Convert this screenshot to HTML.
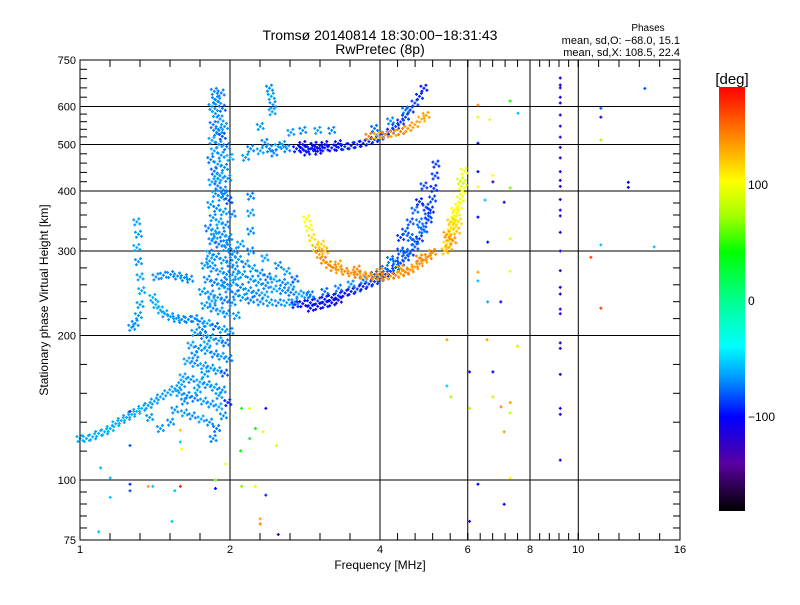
<!DOCTYPE html>
<html><head><meta charset="utf-8"><style>
html,body{margin:0;padding:0;background:#fff;}
svg text{font-family:"Liberation Sans",sans-serif;fill:#000;}
</style></head><body>
<svg id="chart" width="800" height="600" viewBox="0 0 800 600" xmlns="http://www.w3.org/2000/svg">
<defs>
<linearGradient id="cmap" x1="0" y1="1" x2="0" y2="0">
<stop offset="0" stop-color="#000000"/><stop offset="0.111" stop-color="#5a00a0"/><stop offset="0.222" stop-color="#0000ff"/><stop offset="0.306" stop-color="#008cff"/><stop offset="0.389" stop-color="#00ffff"/><stop offset="0.5" stop-color="#00ff8c"/><stop offset="0.611" stop-color="#00ff00"/><stop offset="0.694" stop-color="#a0ff00"/><stop offset="0.778" stop-color="#ffff00"/><stop offset="0.889" stop-color="#ff8000"/><stop offset="1" stop-color="#ff0000"/>
</linearGradient>
</defs>
<rect width="800" height="600" fill="#fff"/>
<text x="380" y="40" font-size="14" text-anchor="middle">Tromsø 20140814 18:30:00−18:31:43</text>
<text x="380" y="54" font-size="14" text-anchor="middle">RwPretec (8p)</text>
<text x="648" y="31" font-size="10" text-anchor="middle">Phases</text>
<text x="680" y="44" font-size="11" text-anchor="end">mean, sd,O: −68.0, 15.1</text>
<text x="680" y="56" font-size="11" text-anchor="end">mean, sd,X: 108.5, 22.4</text>
<g id="grid"></g>
<g id="marks"></g>
<rect x="80" y="60" width="600" height="480" fill="none" stroke="#000" stroke-width="1"/>
<g id="axes"></g>
<text x="380" y="569" font-size="12" text-anchor="middle">Frequency [MHz]</text>
<text transform="translate(48,300) rotate(-90)" font-size="12" text-anchor="middle">Stationary phase Virtual Height [km]</text>
<rect x="719" y="87" width="26" height="424" fill="url(#cmap)"/>
<text x="732" y="84" font-size="15" text-anchor="middle">[deg]</text>
<g id="cbticks"></g>
</svg>
<script>
const xTicks = [1, 2, 4, 6, 8, 10, 16];
const xGrid = [2, 4, 6, 8, 10];
const yTicks = [75, 100, 200, 300, 400, 500, 600, 750];
const yGrid = [100, 200, 300, 400, 500, 600];
const cbTicks = [100, 0, -100];

const spreadF = [[1.86,645,-65],[1.92,640,-70],[1.89,615,-60],[1.84,600,-65],[1.93,595,-75],[1.87,580,-60],[1.91,565,-65],[1.85,550,-70],[1.95,545,-60],[1.88,530,-65],[1.93,520,-80],[1.84,510,-60],[1.9,500,-65],[1.97,495,-70],[1.86,485,-60],[1.92,475,-65],[2.0,470,-55],[1.83,465,-70],[1.89,455,-60],[1.95,448,-65],[1.86,440,-75],[1.91,430,-60],[1.98,425,-65],[1.84,418,-60],[1.89,410,-70],[1.94,402,-65],[1.87,395,-60],[1.92,388,-65],[1.99,382,-80],[1.83,375,-60],[1.88,368,-65],[1.94,362,-60],[2.02,358,-70],[1.85,352,-65],[1.9,345,-60],[1.96,340,-65],[1.81,335,-70],[1.87,330,-60],[1.93,325,-65],[1.99,320,-60],[1.84,315,-65],[1.9,310,-75],[1.96,305,-60],[2.04,300,-65],[1.82,297,-60],[1.88,292,-65],[1.94,287,-60],[2.0,283,-70],[1.78,280,-60],[1.85,276,-65],[1.91,272,-60],[1.97,268,-65],[2.05,265,-60],[1.8,262,-65],[1.86,258,-70],[1.92,254,-60],[1.98,250,-65],[1.76,247,-60],[1.83,244,-65],[1.89,240,-60],[1.95,237,-70],[2.02,234,-65],[1.78,231,-60],[1.85,228,-65],[1.91,225,-60],[1.97,222,-65],[2.06,220,-60],[1.74,214,-65],[1.8,212,-60],[1.87,209,-75],[1.93,206,-60],[2.0,204,-65],[1.7,203,-60],[1.77,200,-65],[1.83,198,-60],[1.9,195,-65],[1.96,193,-70],[1.67,191,-60],[1.73,188,-65],[1.8,186,-60],[1.86,183,-70],[1.92,181,-60],[1.99,179,-65],[1.64,177,-60],[1.7,175,-65],[1.77,173,-60],[1.83,171,-65],[1.89,169,-60],[1.95,167,-80],[1.61,164,-60],[1.67,162,-65],[1.74,160,-60],[1.8,158,-65],[1.86,156,-60],[1.93,154,-65],[1.58,152,-60],[1.64,150,-65],[1.7,148,-70],[1.77,146,-60],[1.83,144,-65],[1.9,142,-60],[1.55,140,-65],[1.62,138,-60],[1.68,136,-65],[1.75,134,-60],[1.82,132,-65],[1.9,150,-60],[1.72,154,-60],[1.62,146,-65],[1.78,166,-60],[1.7,182,-65],[1.8,192,-60],[1.76,206,-65],[1.84,236,-60],[1.95,258,-65],[1.82,286,-60],[1.97,312,-65],[1.86,322,-60],[1.95,395,-65],[1.89,425,-60],[1.9,535,-65],[1.87,620,-65],[1.88,128,-70],[1.94,136,-65],[1.98,145,-90],[1.85,122,-65]];

const lowBand = [[2.02,295,-65],[2.08,288,-60],[2.15,282,-65],[2.22,276,-60],[2.3,270,-65],[2.38,265,-70],[2.45,262,-60],[2.55,258,-65],[2.65,255,-60],[2.05,275,-65],[2.12,268,-60],[2.2,262,-65],[2.28,258,-60],[2.36,254,-65],[2.45,250,-60],[2.55,248,-65],[2.65,246,-70],[2.75,244,-60],[2.85,243,-65],[2.03,258,-60],[2.1,252,-65],[2.18,248,-60],[2.26,245,-65],[2.35,243,-60],[2.05,244,-65],[2.12,240,-60],[2.2,237,-70],[2.3,235,-65],[2.4,234,-60],[2.5,234,-65],[2.6,234,-60],[2.7,235,-65],[2.1,310,-60],[2.2,300,-65],[2.35,290,-60],[2.5,280,-65],[2.6,272,-60],[2.7,262,-75],[2.2,330,-65],[2.2,360,-60],[2.2,390,-65]];

const oTrace = [[2.7,232,-90],[2.8,233,-100],[2.9,234,-95],[3.0,236,-90],[3.1,238,-100],[3.2,240,-95],[3.3,242,-90],[3.4,245,-100],[3.5,247,-95],[3.6,250,-90],[3.7,253,-95],[3.8,256,-90],[3.9,259,-85],[4.0,263,-85],[4.1,268,-80],[4.2,272,-85],[4.3,277,-80],[4.4,283,-85],[4.5,290,-80],[4.6,297,-85],[4.7,306,-80],[4.8,318,-85],[4.9,332,-80],[5.0,348,-85],[5.05,365,-90],[5.1,385,-85],[5.13,405,-90],[5.16,430,-85],[5.18,455,-90],[2.9,228,-100],[3.0,230,-105],[3.1,232,-95],[3.2,234,-100],[3.3,237,-105],[2.9,243,-70],[3.1,247,-75],[3.3,251,-70],[3.5,256,-65],[3.7,261,-70],[3.9,268,-75],[4.1,276,-70],[4.3,286,-75],[4.5,298,-70],[4.7,314,-75],[4.85,333,-70],[5.0,355,-80],[4.6,320,-75],[4.8,345,-70],[4.95,370,-85],[4.4,300,-80],[4.2,288,-70],[4.4,320,-85],[4.6,345,-80],[4.8,380,-90],[4.9,410,-85],[4.7,365,-75],[4.5,330,-80]];

const xTrace = [[2.85,350,100],[2.88,335,95],[2.92,320,110],[2.97,305,120],[3.02,295,130],[3.08,287,140],[3.15,281,135],[3.22,277,140],[3.3,274,130],[3.4,272,140],[3.5,270,135],[3.6,268,140],[3.7,267,130],[3.8,266,140],[3.9,265,135],[4.0,265,130],[4.1,265,140],[4.2,266,135],[4.3,267,140],[4.4,269,130],[4.5,271,140],[4.6,274,135],[4.7,278,130],[4.8,282,135],[4.9,287,130],[5.0,292,140],[5.1,298,135],[3.05,310,115],[3.1,300,125],[3.3,282,130],[3.6,275,140],[4.0,272,135],[4.4,276,130],[4.8,290,140],[5.4,300,120],[5.45,310,110],[5.5,320,130],[5.55,330,100],[5.6,340,110],[5.65,350,95],[5.7,360,105],[5.75,372,100],[5.8,385,95],[5.85,400,100],[5.88,415,90],[5.5,305,125],[5.6,315,135],[5.7,330,120],[5.75,345,110],[5.45,325,130],[5.55,345,115],[5.65,365,100],[5.8,420,85],[5.9,440,95]];

const oHop2 = [[2.72,490,-95],[2.8,489,-100],[2.9,490,-95],[3.0,491,-100],[3.1,492,-95],[3.2,492,-100],[3.3,493,-95],[3.4,495,-90],[3.5,497,-95],[3.6,500,-90],[3.7,503,-95],[3.8,507,-90],[3.9,512,-85],[4.0,518,-90],[4.1,525,-85],[4.2,533,-90],[4.3,545,-85],[4.4,557,-90],[4.5,570,-85],[4.6,590,-90],[4.7,610,-85],[4.8,630,-90],[4.9,655,-95],[2.8,500,-100],[2.95,498,-105],[3.1,500,-100],[3.3,502,-95],[2.85,482,-95],[3.0,484,-100],[2.2,490,-65],[2.3,485,-60],[2.4,490,-65],[2.5,495,-60],[2.6,490,-65],[2.15,470,-60],[2.35,505,-65],[2.55,500,-60],[2.45,480,-70],[2.65,530,-60],[2.8,535,-65],[3.0,535,-60],[3.2,535,-65],[2.3,545,-60],[2.4,655,-65],[2.42,630,-60],[2.44,605,-65],[2.43,585,-60],[3.9,540,-70],[4.2,560,-65],[4.5,590,-70]];

const xHop2 = [[3.95,522,130],[4.1,524,135],[4.25,527,130],[4.4,532,140],[4.55,540,135],[4.7,550,130],[4.85,565,125],[4.95,575,130],[3.8,520,140]];

const leftTraces = [[1.0,122,-55],[1.03,122,-55],[1.06,123,-55],[1.09,125,-55],[1.12,126,-55],[1.15,128,-55],[1.18,131,-55],[1.21,133,-55],[1.24,135,-55],[1.27,137,-55],[1.3,139,-55],[1.33,141,-55],[1.37,143,-60],[1.41,146,-60],[1.45,149,-60],[1.5,152,-60],[1.55,155,-60],[1.6,158,-60],[1.38,135,-60],[1.45,128,-60],[1.52,132,-65],[1.4,240,-55],[1.42,232,-55],[1.45,226,-55],[1.48,222,-60],[1.52,219,-60],[1.56,217,-60],[1.6,216,-65],[1.65,216,-65],[1.7,217,-65],[1.42,265,-65],[1.47,267,-65],[1.52,268,-65],[1.57,266,-65],[1.62,264,-65],[1.66,262,-65],[1.3,345,-60],[1.31,325,-60],[1.3,305,-55],[1.31,285,-60],[1.32,265,-60],[1.33,248,-55],[1.32,232,-60],[1.31,220,-60],[1.29,212,-65],[1.27,208,-60]];

const column92 = [688,665,656,627,610,576,546,518,493,469,439,421,409,384,365,355,328,300,273,252,244,227,222,193,188,166,141,137,110];
const column92Phase = -110;

const scatter = [[6.29,604,140],[6.29,570,95],[6.29,503,-100],[6.64,563,95],[7.3,616,40],[7.57,581,-50],[6.29,439,-100],[6.74,431,100],[6.74,418,-130],[7.3,406,60],[6.29,408,100],[6.5,383,-50],[7.1,379,-110],[6.29,353,-100],[7.3,318,90],[6.58,313,-100],[11.1,309,-50],[14.2,306,-50],[10.6,291,160],[11.1,228,160],[6.29,271,130],[6.29,260,-50],[6.58,235,-60],[6.99,235,-100],[7.3,272,95],[5.45,196,130],[6.56,196,130],[7.55,190,80],[6.05,168,-100],[6.74,168,-100],[5.45,157,-50],[5.55,149,70],[6.74,149,80],[7.3,145,130],[7.3,138,80],[7.0,142,140],[6.05,141,70],[7.1,126,130],[7.3,101,100],[6.29,98,-100],[7.1,89,-100],[6.05,82,-110],[13.6,654,-80],[11.1,595,-80],[11.1,570,-110],[11.1,511,70],[12.6,417,-100],[12.6,407,-100],[1.26,139,-90],[1.26,118,-80],[1.26,98,-90],[1.26,95,-80],[1.15,101,-50],[1.15,92,-50],[1.37,97,130],[1.4,97,-50],[1.55,95,-50],[1.53,82,-50],[1.59,120,-50],[1.59,127,120],[1.6,116,100],[1.1,106,-55],[1.09,78,-50],[1.59,97,170],[1.87,100,60],[1.87,96,-100],[1.96,108,100],[2.1,115,40],[2.19,122,30],[2.25,128,40],[2.33,126,90],[2.48,118,90],[2.25,97,90],[2.11,97,60],[2.36,93,-90],[2.3,83,130],[2.3,81,140],[2.5,77,-130],[2.11,141,30],[2.19,141,90],[2.36,141,-100]];

const denseGroups = [spreadF, lowBand, oTrace, xTrace, oHop2, xHop2, leftTraces];

const NS = 'http://www.w3.org/2000/svg';
function xScale(f){ return 80 + 150 * Math.log2(f); }
function yScale(h){ return 480 - 480 * Math.log10(h / 100); }
function cbScale(p){ return 300 - p * 1.16; }
const cstops = [[-180,0,0,0],[-140,90,0,160],[-100,0,0,255],[-70,0,120,255],[-40,0,230,255],[0,0,255,140],[40,0,255,0],[70,160,255,0],[100,255,255,0],[140,255,128,0],[180,255,0,0]];
function colorOf(p){
  p = Math.max(-180, Math.min(180, p));
  for (let i = 0; i < cstops.length - 1; i++) {
    const a = cstops[i], b = cstops[i+1];
    if (p >= a[0] && p <= b[0]) {
      const t = (p - a[0]) / (b[0] - a[0]);
      const c = [1,2,3].map(k => Math.round(a[k] + (b[k]-a[k]) * t));
      return 'rgb(' + c.join(',') + ')';
    }
  }
  return '#000';
}
function mk(tag, attrs, parent){
  const el = document.createElementNS(NS, tag);
  for (const k in attrs) el.setAttribute(k, attrs[k]);
  parent.appendChild(el);
  return el;
}

const grid = document.getElementById('grid');
xGrid.forEach(f => {
  const l = mk('line', {x1: xScale(f), x2: xScale(f), y1: 60, y2: 540, stroke: '#000', 'stroke-width': 1}, grid);
  
  
});
yGrid.forEach(h => {
  const l = mk('line', {x1: 80, x2: 680, y1: yScale(h), y2: yScale(h), stroke: '#000', 'stroke-width': 1}, grid);
  
  
});

const axes = document.getElementById('axes');
for (let i = 0; i < xTicks.length - 1; i++) {
  const a = xScale(xTicks[i]), b = xScale(xTicks[i+1]);
  for (let j = 0; j <= 5; j++) {
    const x = a + (b - a) * j / 5;
    const t1 = mk('line', {x1: x, x2: x, y1: 540, y2: 533, stroke: '#000'}, axes);
    
    
    const t2 = mk('line', {x1: x, x2: x, y1: 60, y2: 67, stroke: '#000'}, axes);
    
    
  }
}
xTicks.forEach(f => {
  const t = mk('text', {x: xScale(f), y: 553, 'font-size': 11, 'text-anchor': 'middle'}, axes);
  t.textContent = String(f);
  
  
});
for (let i = 0; i < yTicks.length - 1; i++) {
  const a = yScale(yTicks[i]), b = yScale(yTicks[i+1]);
  for (let j = 0; j <= 5; j++) {
    const y = a + (b - a) * j / 5;
    const t1 = mk('line', {x1: 80, x2: 87, y1: y, y2: y, stroke: '#000'}, axes);
    
    
    const t2 = mk('line', {x1: 673, x2: 680, y1: y, y2: y, stroke: '#000'}, axes);
    
    
  }
}
yTicks.forEach(h => {
  const t = mk('text', {x: 76, y: yScale(h) + 4, 'font-size': 11, 'text-anchor': 'end'}, axes);
  t.textContent = String(h);
  
  
});

const cbg = document.getElementById('cbticks');
cbTicks.forEach(p => {
  const t = mk('text', {x: 748, y: cbScale(p) + 5, 'font-size': 12}, cbg);
  t.textContent = p < 0 ? '−' + Math.abs(p) : String(p);
  
  
});

const marks = document.getElementById('marks');
const clusterGlyph = [[0,0],[3,2],[-3,-2],[2,-3],[-2,3]];
function plusPath(x, y){ return 'M' + (x-1.5) + ' ' + y + 'h3M' + x + ' ' + (y-1.5) + 'v3'; }
function drawPoint(f, h, p, dense){
  const x = xScale(f), y = yScale(h);
  let d = '';
  (dense ? clusterGlyph : [[0,0]]).forEach(o => { d += plusPath(x + o[0], y + o[1]); });
  const e = mk('path', {d: d, stroke: colorOf(p), 'stroke-width': 1.3, fill: 'none'}, marks);
  
  
}
denseGroups.forEach(g => g.forEach(d => drawPoint(d[0], d[1], d[2], true)));
scatter.forEach(d => drawPoint(d[0], d[1], d[2], false));
column92.forEach(h => drawPoint(9.2, h, column92Phase, false));
</script>
</body></html>
